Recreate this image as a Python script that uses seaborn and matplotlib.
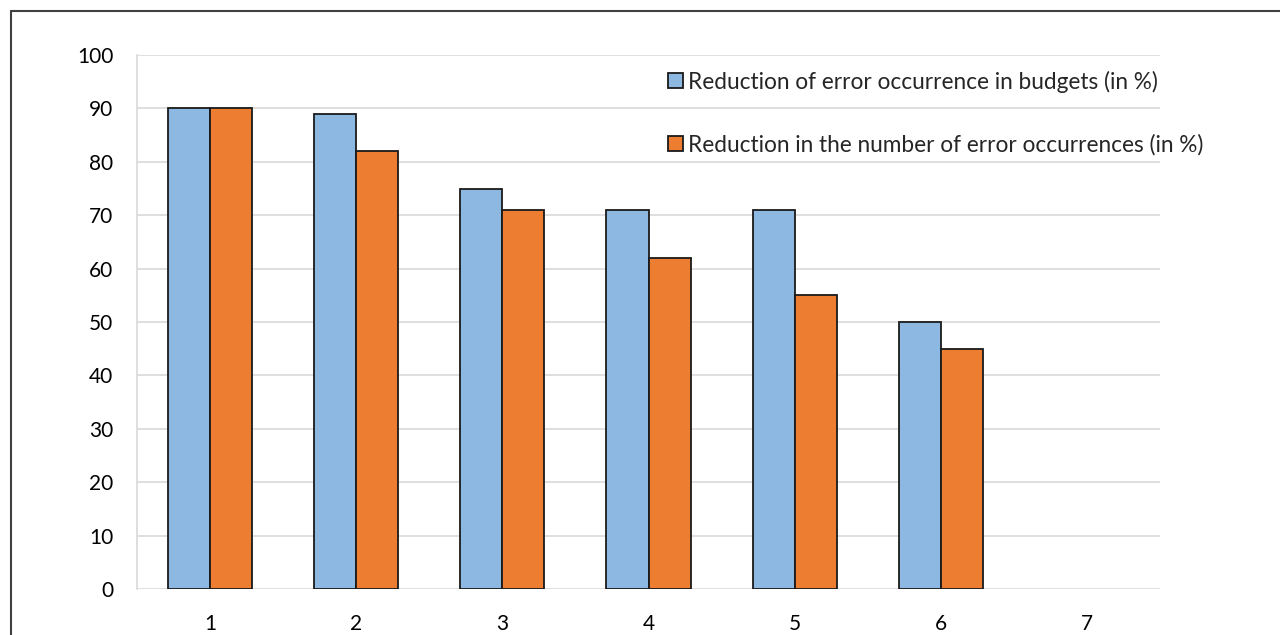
import matplotlib
matplotlib.use("Agg")
import matplotlib.pyplot as plt
from matplotlib.lines import Line2D
from matplotlib.patches import Patch
import seaborn as sns
import pandas as pd
import numpy as np

categories = ["1", "2", "3", "4", "5", "6", "7"]
budgets = [90, 89, 75, 71, 71, 50, np.nan]
occurrences = [90, 82, 71, 62, 55, 45, np.nan]
series_names = [
    "Reduction of error occurrence in budgets (in %)",
    "Reduction in the number of error occurrences (in %)",
]
yticks = [0, 10, 20, 30, 40, 50, 60, 70, 80, 90, 100]
colors = ["#8DB8E2", "#ED7D31"]

df = pd.DataFrame({
    "category": categories * 2,
    "value": budgets + occurrences,
    "series": [series_names[0]] * len(categories) + [series_names[1]] * len(categories),
})

sns.set_style("white")
plt.rcParams["font.family"] = ["Lato", "DejaVu Sans"]

fig = plt.figure(figsize=(12.8, 6.35), dpi=100)
ax = fig.add_axes([137 / 1280, 1 - 589 / 635, (1160 - 137) / 1280, (589 - 55) / 635])

sns.barplot(data=df, x="category", y="value", hue="series", order=categories,
            hue_order=series_names, palette=colors, width=0.575, gap=0,
            edgecolor="#1a1a1a", linewidth=1.3, saturation=1, ax=ax, legend=False)

ax.set_xlim(-0.5, 6.5)
ax.set_ylim(0, 100)
ax.set_yticks(yticks)
ax.set_xlabel("")
ax.set_ylabel("")
ax.yaxis.grid(True, color="#d9d9d9", linewidth=1.2)
ax.set_axisbelow(True)
for side in ["top", "right", "bottom"]:
    ax.spines[side].set_visible(False)
ax.spines["left"].set_color("#d9d9d9")
ax.spines["left"].set_linewidth(1.2)
ax.tick_params(axis="both", length=0, labelsize=15, colors="black")
ax.tick_params(axis="x", pad=18)
ax.tick_params(axis="y", pad=17)

handles = [Patch(facecolor=c, edgecolor="#1a1a1a", linewidth=1.3) for c in colors]
leg = ax.legend(handles, series_names, loc="upper left", bbox_to_anchor=(0.51, 0.9875),
                frameon=False, fontsize=16.3, handlelength=0.65, handleheight=0.65,
                handletextpad=0.25, labelspacing=1.8, borderaxespad=0)

# outer frame on left and top
fig.add_artist(Line2D([11 / 1280, 11 / 1280], [0, 1 - 11 / 635], transform=fig.transFigure,
                      color="#404040", linewidth=1.5))
fig.add_artist(Line2D([11 / 1280, 1], [1 - 11 / 635, 1 - 11 / 635], transform=fig.transFigure,
                      color="#404040", linewidth=1.5))

fig.savefig("out.png", dpi=100, facecolor="white")
